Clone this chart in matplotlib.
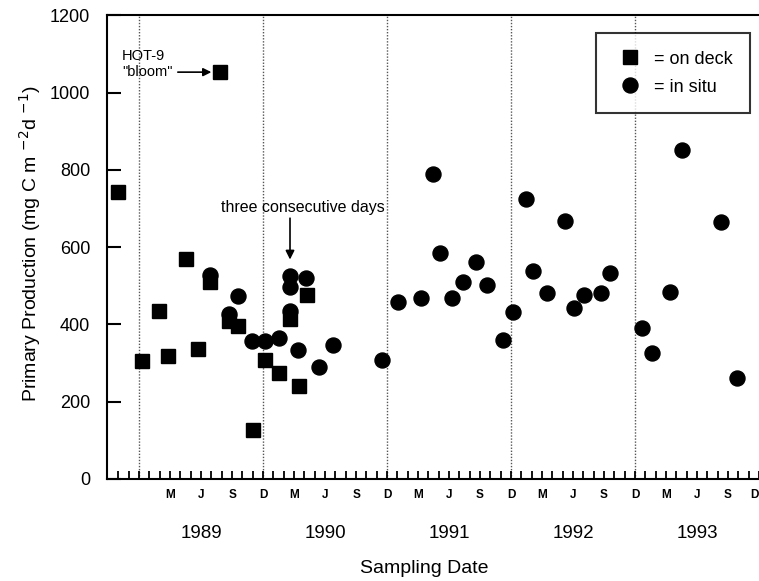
import numpy as np
import matplotlib
matplotlib.use("Agg")
import matplotlib.pyplot as plt
from matplotlib.transforms import blended_transform_factory

plt.rcParams['font.family'] = ['Liberation Sans', 'DejaVu Sans']

# on deck incubations (decimal year, mg C m-2 d-1)
deck_date = [1988.83, 1989.02, 1989.16, 1989.23, 1989.375, 1989.475, 1989.575, 1989.65,
             1989.725, 1989.80, 1989.917, 1990.017, 1990.125, 1990.217, 1990.292, 1990.358]
deck_pp = [743, 305, 436, 317, 569, 337, 509, 1053,
           410, 396, 128, 307, 275, 415, 240, 475]

# in situ incubations
situ_date = [1989.575, 1989.725, 1989.80, 1989.908, 1990.017, 1990.125, 1990.217, 1990.217,
             1990.217, 1990.283, 1990.35, 1990.45, 1990.567, 1990.963, 1991.092, 1991.275,
             1991.371, 1991.425, 1991.525, 1991.613, 1991.717, 1991.808, 1991.933, 1992.017,
             1992.117, 1992.175, 1992.292, 1992.433, 1992.508, 1992.592, 1992.725, 1992.80,
             1993.058, 1993.133, 1993.283, 1993.375, 1993.692, 1993.825]
situ_pp = [528, 428, 473, 356, 356, 365, 526, 496,
           436, 333, 520, 290, 348, 309, 459, 469,
           789, 584, 469, 509, 561, 502, 359, 432,
           724, 539, 482, 667, 443, 475, 481, 532,
           391, 327, 483, 851, 666, 262]

years = [1989, 1990, 1991, 1992, 1993]
month_labels = ['M', 'J', 'S', 'D']
yticks = [0, 200, 400, 600, 800, 1000, 1200]

fig = plt.figure(figsize=(7.59, 5.81), dpi=100)
ax = fig.add_axes([0.141, 0.1756, 0.859, 0.798])

# year boundaries
for yr in years:
    ax.axvline(yr, color='#555555', ls=(0, (1, 1.2)), lw=1.0, zorder=1)

ax.plot(deck_date, deck_pp, 's', color='black', ms=9.8, label='= on deck', zorder=3)
ax.plot(situ_date, situ_pp, 'o', color='black', ms=10.8, label='= in situ', zorder=3)

ax.set_xlim(1988.741, 1993.97)
ax.set_ylim(0, 1200)

ax.set_yticks(yticks)
ax.tick_params(axis='y', direction='in', length=10, width=1.5, pad=12, labelsize=13)
ax.set_xticks(np.arange(1988 + 10 / 12, 1994, 1 / 12))
ax.tick_params(axis='x', direction='in', length=6, width=1.3, labelbottom=False)

for s in ax.spines.values():
    s.set_linewidth(1.5)
ax.spines['right'].set_visible(False)

# month and year labels under the axis
xt = ax.get_xaxis_transform()
edge = blended_transform_factory(fig.transFigure, ax.transAxes)
for yr in years:
    for k, m in enumerate(month_labels):
        pos = yr + (k + 1) / 4
        if pos > 1993.97:
            # last "D" sits at the very edge of the figure
            ax.text(0.999, -0.022, m, transform=edge, ha='right', va='top',
                    fontsize=8.5, fontweight='bold', clip_on=False)
            continue
        ax.text(pos, -0.022, m, transform=xt, ha='center', va='top',
                fontsize=8.5, fontweight='bold', clip_on=False)
    ax.text(yr + 0.5, -0.1, str(yr), transform=xt,
            ha='center', va='top', fontsize=13.5)

ax.text(0.487, -0.175, 'Sampling Date', transform=ax.transAxes,
        ha='center', va='top', fontsize=14)
fig.text(0.04, 0.58, 'Primary Production (mg C m $^{-2}$d $^{-1}$)', rotation=90,
         ha='center', va='center', fontsize=14)

# annotations
ax.text(1988.86, 1095, 'HOT-9', fontsize=10.5, ha='left', va='center')
ax.annotate('"bloom"', xy=(1989.605, 1053), xytext=(1988.86, 1053),
            fontsize=10.5, ha='left', va='center',
            arrowprops=dict(arrowstyle='-|>', color='black', lw=1.2, mutation_scale=12))
ax.text(1990.32, 702, 'three consecutive days', fontsize=11.5, ha='center', va='center')
ax.annotate('', xy=(1990.217, 568), xytext=(1990.217, 675),
            arrowprops=dict(arrowstyle='-|>', color='black', lw=1.2, mutation_scale=13,
                            shrinkA=0, shrinkB=0))

leg = ax.legend(loc='upper right', bbox_to_anchor=(0.986, 0.961), borderaxespad=0,
                fontsize=13, frameon=True, fancybox=False, edgecolor='black',
                handletextpad=0.35, borderpad=0.95, labelspacing=0.62, handlelength=1.9)
leg.get_frame().set_linewidth(1.5)

fig.savefig('out.png', dpi=100)
